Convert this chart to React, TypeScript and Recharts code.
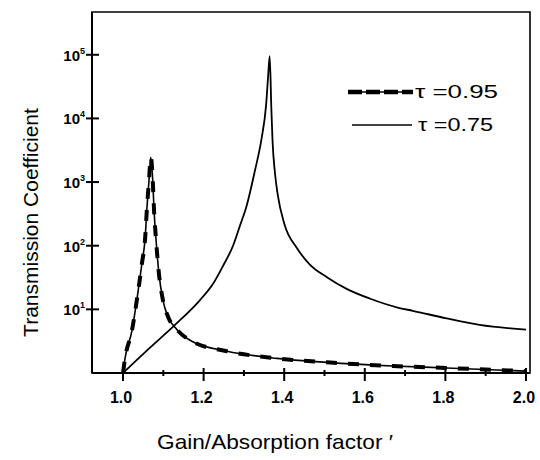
import { Legend, Line, LineChart, ReferenceArea, XAxis, YAxis } from "recharts";

// gain/absorption factor and transmission coefficient
const gain095 = [
  1.0, 1.005, 1.022, 1.035, 1.047, 1.055, 1.059, 1.064, 1.069, 1.074, 1.077, 1.082, 1.089,
  1.099, 1.112, 1.134, 1.173, 1.258, 1.382, 1.506, 1.669, 1.803, 2.0,
];
const trans095 = [
  1, 1.7, 4.6, 15, 53, 135, 360, 960, 2450, 980, 360, 122, 37, 14, 7.6, 4.8, 3.1, 2.2, 1.7,
  1.47, 1.29, 1.2, 1.07,
];

const gain075 = [
  1.0, 1.067, 1.129, 1.191, 1.223, 1.248, 1.273, 1.29, 1.307, 1.327, 1.344, 1.355, 1.36,
  1.364, 1.368, 1.371, 1.377, 1.384, 1.401, 1.431, 1.463, 1.506, 1.555, 1.612, 1.686, 1.719,
  1.803, 1.885, 2.0,
];
const trans075 = [
  1, 2.5, 5.7, 14, 25, 48, 100, 205, 430, 1480, 4900, 16000, 45000, 95000, 15000, 4500, 1400,
  630, 213, 93, 51, 32, 21, 14.8, 10.5, 9.5, 7.2, 5.7, 4.8,
];

const seriesNames = ["τ =0.95", "τ =0.75"];

const xTicks = [1.0, 1.1, 1.2, 1.3, 1.4, 1.5, 1.6, 1.7, 1.8, 1.9, 2.0];
const xTickLabels = ["1.0", "", "1.2", "", "1.4", "", "1.6", "", "1.8", "", "2.0"];
const yTicks = [10, 100, 1000, 10000, 100000];
const yTickExponents = ["1", "2", "3", "4", "5"];

const X_DOMAIN: [number, number] = [0.923, 2.01];
const Y_DOMAIN: [number, number] = [1, 470000];

const curve095 = gain095.map((g, i) => ({ g, t: trans095[i] }));
const curve075 = gain075.map((g, i) => ({ g, t: trans075[i] }));

const FONT = "'Liberation Sans', Arial, sans-serif";

function XTick(props: any) {
  const { x, y, payload } = props;
  const label = xTickLabels[xTicks.indexOf(payload.value)] ?? "";
  const major = label !== "";
  return (
    <g>
      <line x1={x} x2={x} y1={y - (major ? 5 : 3)} y2={y + (major ? 8 : 3)} stroke="#000" strokeWidth={2} />
      {major && (
        <text x={x - 2} y={y + 30} textAnchor="middle" fontSize={16} fontWeight="bold" fill="#000" fontFamily={FONT}>
          {label}
        </text>
      )}
    </g>
  );
}

function YTick(props: any) {
  const { x, y, payload } = props;
  const exp = yTickExponents[yTicks.indexOf(payload.value)] ?? "";
  return (
    <g>
      <line x1={x - 6} x2={x + 7} y1={y} y2={y} stroke="#000" strokeWidth={2} />
      <text x={x - 7} y={y + 6} textAnchor="end" fontSize={15} fontWeight="bold" fill="#000" fontFamily={FONT}>
        10
        <tspan dy={-7} fontSize={9}>
          {exp}
        </tspan>
      </text>
    </g>
  );
}

function XTitle(props: any) {
  const vb = props.viewBox;
  return (
    <text
      x={vb.x + vb.width / 2 - 36}
      y={vb.y + 76}
      textAnchor="middle"
      fontSize={21}
      fill="#000"
      fontFamily={FONT}
      textLength={236}
      lengthAdjust="spacingAndGlyphs"
    >
      Gain/Absorption factor ′
    </text>
  );
}

function YTitle(props: any) {
  const vb = props.viewBox;
  const cx = vb.x + 30;
  const cy = vb.y + vb.height / 2 + 30;
  return (
    <text
      x={cx}
      y={cy}
      transform={`rotate(-90, ${cx}, ${cy})`}
      textAnchor="middle"
      dominantBaseline="central"
      fontSize={21}
      fill="#000"
      fontFamily={FONT}
    >
      Transmission Coefficient
    </text>
  );
}

// legend sample line extents and text widths
const legendRows = [
  { x1: 3, x2: 68, textX: 70, len: 83, dashed: true },
  { x1: 7, x2: 67, textX: 73, len: 75, dashed: false },
];

function LegendBox() {
  return (
    <svg width={190} height={64} style={{ display: "block", overflow: "visible" }}>
      {seriesNames.map((name, i) => {
        const s = legendRows[i];
        const cy = 12 + i * 33;
        return (
          <g key={name}>
            <line x1={s.x1} x2={s.x2} y1={cy} y2={cy} stroke="#000" strokeWidth={1.6} />
            {s.dashed && (
              <line x1={s.x1} x2={s.x2} y1={cy} y2={cy} stroke="#000" strokeWidth={4.5} strokeDasharray="14 4" />
            )}
            <text
              x={s.textX}
              y={cy + 6}
              fontSize={19}
              fill="#000"
              fontFamily={FONT}
              textLength={s.len}
              lengthAdjust="spacingAndGlyphs"
            >
              {name}
            </text>
          </g>
        );
      })}
    </svg>
  );
}

export default function App() {
  // pinned to the page corner so the body margin can't push it past the window
  return (
    <div style={{ position: "absolute", left: 0, top: 0, width: 540, height: 460, fontFamily: FONT, background: "#fff" }}>
      <LineChart width={540} height={460} data={curve095} margin={{ top: 12, right: 10, bottom: 0, left: 0 }}>
        <XAxis
          dataKey="g"
          type="number"
          domain={X_DOMAIN}
          ticks={xTicks}
          allowDataOverflow
          height={87}
          tickSize={0}
          tickMargin={0}
          tickLine={false}
          tick={<XTick />}
          axisLine={{ stroke: "#000", strokeWidth: 2 }}
          label={XTitle}
          interval={0}
        />
        <YAxis
          type="number"
          scale="log"
          domain={Y_DOMAIN}
          ticks={yTicks}
          allowDataOverflow
          width={92}
          tickSize={0}
          tickMargin={0}
          tickLine={false}
          tick={<YTick />}
          axisLine={{ stroke: "#000", strokeWidth: 2 }}
          label={YTitle}
          interval={0}
        />
        <ReferenceArea
          x1={X_DOMAIN[0]}
          x2={X_DOMAIN[1]}
          y1={Y_DOMAIN[0]}
          y2={Y_DOMAIN[1]}
          fill="none"
          stroke="#000"
          strokeWidth={1.6}
          ifOverflow="visible"
        />
        <Line
          data={curve095}
          dataKey="t"
          type="monotone"
          stroke="#000"
          strokeWidth={1.6}
          dot={false}
          legendType="none"
          isAnimationActive={false}
        />
        <Line
          data={curve095}
          dataKey="t"
          name={seriesNames[0]}
          type="monotone"
          stroke="#000"
          strokeWidth={4}
          strokeDasharray="11 11"
          dot={false}
          isAnimationActive={false}
        />
        <Line
          data={curve075}
          dataKey="t"
          name={seriesNames[1]}
          type="monotone"
          stroke="#000"
          strokeWidth={1.8}
          dot={false}
          isAnimationActive={false}
        />
        <Legend
          layout="vertical"
          align="center"
          verticalAlign="middle"
          content={<LegendBox />}
          wrapperStyle={{ position: "absolute", top: 80, left: 345, width: 190 }}
        />
      </LineChart>
    </div>
  );
}
